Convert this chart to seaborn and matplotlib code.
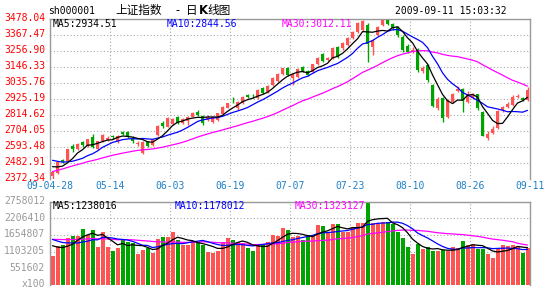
import numpy as np
import pandas as pd
import matplotlib
matplotlib.use("Agg")
import matplotlib.pyplot as plt
import matplotlib.transforms as mtransforms
import seaborn as sns

# ---------------- data ----------------
date_labels = ["09-04-28", "05-14", "06-03", "06-19", "07-07", "07-23", "08-10", "08-26", "09-11"]
price_ticks = [2372.34, 2482.91, 2593.48, 2704.05, 2814.62, 2925.19, 3035.76,
               3146.33, 3256.90, 3367.47, 3478.04]
vol_ticks = [0, 551602, 1103205, 1654807, 2206410, 2758012]
vol_tick_labels = ["x100", "551602", "1103205", "1654807", "2206410", "2758012"]

# closes / volumes of the 29 sessions before the first shown candle (for the moving averages)
prior_close = [2220, 2215, 2255, 2281, 2320, 2331, 2330, 2358, 2374, 2373,
               2373, 2408, 2449, 2444, 2471, 2435, 2444, 2513, 2513, 2545,
               2560, 2545, 2551, 2543, 2518, 2500, 2463, 2457, 2437]
prior_vol = [1350000, 1420000, 1600000, 1480000, 1550000, 1620000, 1400000, 1380000, 1660000, 1700000,
             1520000, 1450000, 1580000, 1490000, 1360000, 1550000, 1470000, 1530000, 1600000, 1500000,
             1850000, 1780000, 1700000, 1620000, 1650000, 1520000, 1400000, 1320000, 1300000]

opens = [2393, 2410, 2502, 2497, 2598, 2575, 2628, 2596, 2663, 2578,
         2633, 2642, 2664, 2630, 2697, 2697, 2650, 2612, 2552, 2624,
         2605, 2674, 2755, 2732, 2750, 2801, 2760, 2771, 2801, 2835,
         2806, 2778, 2766, 2778, 2817, 2863, 2918, 2863, 2893, 2948,
         2946, 2928, 3000, 2969, 3020, 3047, 3094, 3135, 3066, 3073,
         3146, 3117, 3107, 3163, 3232, 3193, 3208, 3285, 3273, 3296,
         3343, 3384, 3400, 3435, 3285, 3365, 3435, 3470, 3438, 3423,
         3355, 3290, 3250, 3270, 3118, 3158, 3020, 2860, 2928, 2800,
         2905, 2980, 2990, 2905, 2930, 2955, 2835, 2655, 2688, 2725,
         2845, 2866, 2885, 2938, 2930, 2915]
highs = [2428, 2496, 2510, 2580, 2610, 2620, 2636, 2650, 2680, 2636,
         2680, 2668, 2676, 2672, 2702, 2700, 2665, 2635, 2632, 2630,
         2650, 2745, 2768, 2800, 2790, 2808, 2795, 2806, 2832, 2848,
         2812, 2810, 2806, 2828, 2875, 2898, 2936, 2910, 2945, 2958,
         2955, 2990, 3008, 3020, 3075, 3100, 3140, 3142, 3100, 3135,
         3152, 3122, 3168, 3210, 3240, 3215, 3285, 3292, 3315, 3350,
         3390, 3452, 3468, 3450, 3338, 3428, 3474, 3478.04, 3445, 3430,
         3362, 3300, 3285, 3278, 3150, 3165, 3025, 2935, 2935, 2925,
         2965, 3010, 2998, 2975, 2968, 2960, 2840, 2700, 2735, 2848,
         2878, 2900, 2950, 2960, 2940, 3005]
lows = [2372.34, 2405, 2480, 2494, 2560, 2568, 2593, 2590, 2585, 2572,
        2628, 2630, 2650, 2622, 2672, 2655, 2622, 2600, 2545, 2594,
        2600, 2668, 2725, 2728, 2745, 2752, 2752, 2742, 2796, 2805,
        2745, 2770, 2760, 2772, 2812, 2858, 2893, 2845, 2888, 2930,
        2932, 2920, 2958, 2962, 3015, 3042, 3088, 3080, 3020, 3066,
        3110, 3080, 3100, 3158, 3180, 3185, 3200, 3208, 3265, 3290,
        3335, 3378, 3395, 3181, 3225, 3358, 3428, 3432, 3400, 3350,
        3250, 3240, 3242, 3110, 3105, 3040, 2865, 2850, 2765, 2790,
        2895, 2970, 2830, 2895, 2920, 2850, 2665, 2640, 2680, 2718,
        2835, 2858, 2878, 2930, 2908, 2910]
closes = [2421, 2490, 2490, 2575, 2580, 2614, 2605, 2645, 2590, 2630,
          2674, 2656, 2660, 2668, 2678, 2662, 2630, 2618, 2628, 2600,
          2645, 2739, 2735, 2794, 2783, 2760, 2783, 2801, 2828, 2810,
          2755, 2801, 2801, 2824, 2870, 2893, 2914, 2905, 2939, 2940,
          2942, 2985, 2965, 3015, 3070, 3094, 3135, 3089, 3094, 3130,
          3117, 3089, 3163, 3204, 3188, 3204, 3278, 3215, 3308, 3343,
          3384, 3446, 3462, 3300, 3331, 3423, 3469, 3440, 3415, 3365,
          3262, 3250, 3265, 3124, 3135, 3054, 2872, 2925, 2790, 2915,
          2955, 2995, 2916, 2960, 2950, 2860, 2668, 2684, 2715, 2840,
          2866, 2890, 2935, 2945, 2915, 2988]
volumes = [960000, 1290000, 1320000, 1550000, 1620000, 1620000, 1850000, 1660000, 1820000, 1270000,
           1770000, 1270000, 1130000, 1210000, 1490000, 1430000, 1400000, 1030000, 1160000, 1210000,
           1070000, 1510000, 1580000, 1580000, 1740000, 1490000, 1320000, 1320000, 1470000, 1430000,
           1320000, 1100000, 1070000, 1140000, 1430000, 1550000, 1490000, 1430000, 1380000, 1210000,
           1140000, 1320000, 1320000, 1420000, 1660000, 1620000, 1880000, 1820000, 1580000, 1620000,
           1490000, 1660000, 1660000, 1990000, 1950000, 1710000, 2020000, 2020000, 1770000, 1770000,
           1910000, 2040000, 2060000, 2758012, 2040000, 2040000, 2100000, 2100000, 2010000, 1740000,
           1550000, 1260000, 1040000, 1350000, 1180000, 1260000, 1130000, 1110000, 1150000, 1110000,
           1260000, 1240000, 1460000, 1330000, 1370000, 1180000, 1180000, 1030000, 880000, 1190000,
           1310000, 1300000, 1330000, 1260000, 1070000, 1230000]

# ---------------- styling ----------------
sns.set_style("white")
plt.rcParams["font.family"] = ["DejaVu Sans Mono", "Noto Sans CJK SC"]

RED = "#ff5454"
GREEN = "#00a400"
GRID = "#a8a8a8"
BORDER = "#999999"
BLUE = "#0000ff"
MAG = "#ff00ff"
DATEC = "#1e80c8"

W, H = 545, 289
fig = plt.figure(figsize=(W / 100, H / 100), dpi=100)
fig.patch.set_facecolor("white")

def frac(x, y):
    return x / W, 1 - y / H

# axes rectangles (pixels)
L, R = 50, 530
m_top, m_bot = 18.7, 178.7
v_top, v_bot = 201.7, 285.0
ax = fig.add_axes([L / W, (H - m_bot) / H, (R - L) / W, (m_bot - m_top) / H])
axv = fig.add_axes([L / W, (H - v_bot) / H, (R - L) / W, (v_bot - v_top) / H])

n = len(closes)
idx = np.arange(n)
df = pd.DataFrame({"i": idx, "open": opens, "high": highs, "low": lows,
                   "close": closes, "vol": volumes})
up = df["close"] >= df["open"]
colors = np.where(up, RED, GREEN)

allc = pd.Series(prior_close + closes, dtype=float)
allv = pd.Series(prior_vol + volumes, dtype=float)
k = len(prior_close)
for p in (5, 10, 30):
    df[f"ma{p}"] = allc.rolling(p).mean().values[k:]
    df[f"vma{p}"] = allv.rolling(p).mean().values[k:]

grid_x = [-0.5 + 12 * j for j in range(9)]
lift = mtransforms.ScaledTranslation(0, 1.8 / 100, fig.dpi_scale_trans)

# ---------------- price panel ----------------
ax.set_xlim(-0.5, n - 0.5)
ax.set_ylim(price_ticks[0], price_ticks[-1])
ax.set_yticks(price_ticks)
ax.set_yticklabels([f"{v:.2f}" for v in price_ticks])
ax.set_xticks(grid_x)
ax.set_xticklabels(date_labels)
ax.tick_params(axis="y", length=0, pad=3.6, labelsize=7, labelcolor="#ff0000")
ax.tick_params(axis="x", length=0, pad=1.6, labelsize=7, labelcolor=DATEC)
for lab in ax.get_yticklabels():
    lab.set_transform(lab.get_transform() + lift)
ax.grid(True, color=GRID, linestyle=(0, (1, 2)), linewidth=0.8)
ax.set_axisbelow(True)
for s in ("top", "left", "right"):
    ax.spines[s].set_color(BORDER)
    ax.spines[s].set_linewidth(1.0)
ax.spines["bottom"].set_visible(False)

ax.vlines(df["i"], df["low"], df["high"], colors=colors, linewidth=1.0, zorder=2)
body_low = np.minimum(df["open"], df["close"])
body_h = np.maximum(np.abs(df["close"] - df["open"]), 4)
ax.bar(df["i"], body_h, bottom=body_low, width=0.72, color=colors, linewidth=0, zorder=3)

sns.lineplot(data=df, x="i", y="ma30", ax=ax, color=MAG, linewidth=0.9, zorder=4)
sns.lineplot(data=df, x="i", y="ma10", ax=ax, color=BLUE, linewidth=0.9, zorder=4)
sns.lineplot(data=df, x="i", y="ma5", ax=ax, color="black", linewidth=0.9, zorder=5)
ax.set_xlabel("")
ax.set_ylabel("")

# ---------------- volume panel ----------------
axv.set_xlim(-0.5, n - 0.5)
axv.set_ylim(0, vol_ticks[-1])
axv.set_yticks(vol_ticks)
axv.set_yticklabels(vol_tick_labels)
axv.set_xticks(grid_x)
axv.set_xticklabels([])
axv.tick_params(axis="y", length=0, pad=3.6, labelsize=7, labelcolor="#999999")
axv.tick_params(axis="x", length=0)
for lab in axv.get_yticklabels():
    lab.set_transform(lab.get_transform() + lift)
axv.grid(True, color=GRID, linestyle=(0, (1, 2)), linewidth=0.8)
axv.set_axisbelow(True)
for s in ("top", "left", "right"):
    axv.spines[s].set_color(BORDER)
    axv.spines[s].set_linewidth(1.0)
axv.spines["bottom"].set_visible(False)

axv.bar(df["i"], df["vol"], width=0.8, color=colors, linewidth=0, zorder=2)
sns.lineplot(data=df, x="i", y="vma30", ax=axv, color=MAG, linewidth=0.9, zorder=4)
sns.lineplot(data=df, x="i", y="vma10", ax=axv, color=BLUE, linewidth=0.9, zorder=4)
sns.lineplot(data=df, x="i", y="vma5", ax=axv, color="black", linewidth=0.9, zorder=5)
axv.set_xlabel("")
axv.set_ylabel("")

# ---------------- texts ----------------
fs = 7
fig.text(*frac(48, 11), "sh000001", fontsize=fs, color="black", va="center", ha="left")
cjk = ["Noto Sans CJK SC", "DejaVu Sans"]
fig.text(*frac(115, 10.5), "上证指数", fontsize=8.4, color="black", va="center", ha="left", family=cjk)
fig.text(*frac(175, 10.5), "-", fontsize=8.4, color="black", va="center", ha="left", family=cjk)
fig.text(*frac(186, 10.5), "日", fontsize=8.4, color="black", va="center", ha="left", family=cjk)
fig.text(*frac(198.5, 10.5), "K", fontsize=8.4, color="black", va="center", ha="left",
         family=["DejaVu Sans"], fontweight="bold")
fig.text(*frac(207, 10.5), "线图", fontsize=8.4, color="black", va="center", ha="left", family=cjk)
fig.text(*frac(507, 11), "2009-09-11 15:03:32", fontsize=fs, color="black", va="center", ha="right")

fig.text(*frac(53, 24), "MA5:2934.51", fontsize=fs, color="black", va="center", ha="left")
fig.text(*frac(167, 24), "MA10:2844.56", fontsize=fs, color=BLUE, va="center", ha="left")
fig.text(*frac(282, 24), "MA30:3012.11", fontsize=fs, color=MAG, va="center", ha="left")

fig.text(*frac(53, 206), "MA5:1238016", fontsize=fs, color="black", va="center", ha="left")
fig.text(*frac(175, 206), "MA10:1178012", fontsize=fs, color=BLUE, va="center", ha="left")
fig.text(*frac(295, 206), "MA30:1323127", fontsize=fs, color=MAG, va="center", ha="left")

fig.savefig("out.png", dpi=100, facecolor="white")
